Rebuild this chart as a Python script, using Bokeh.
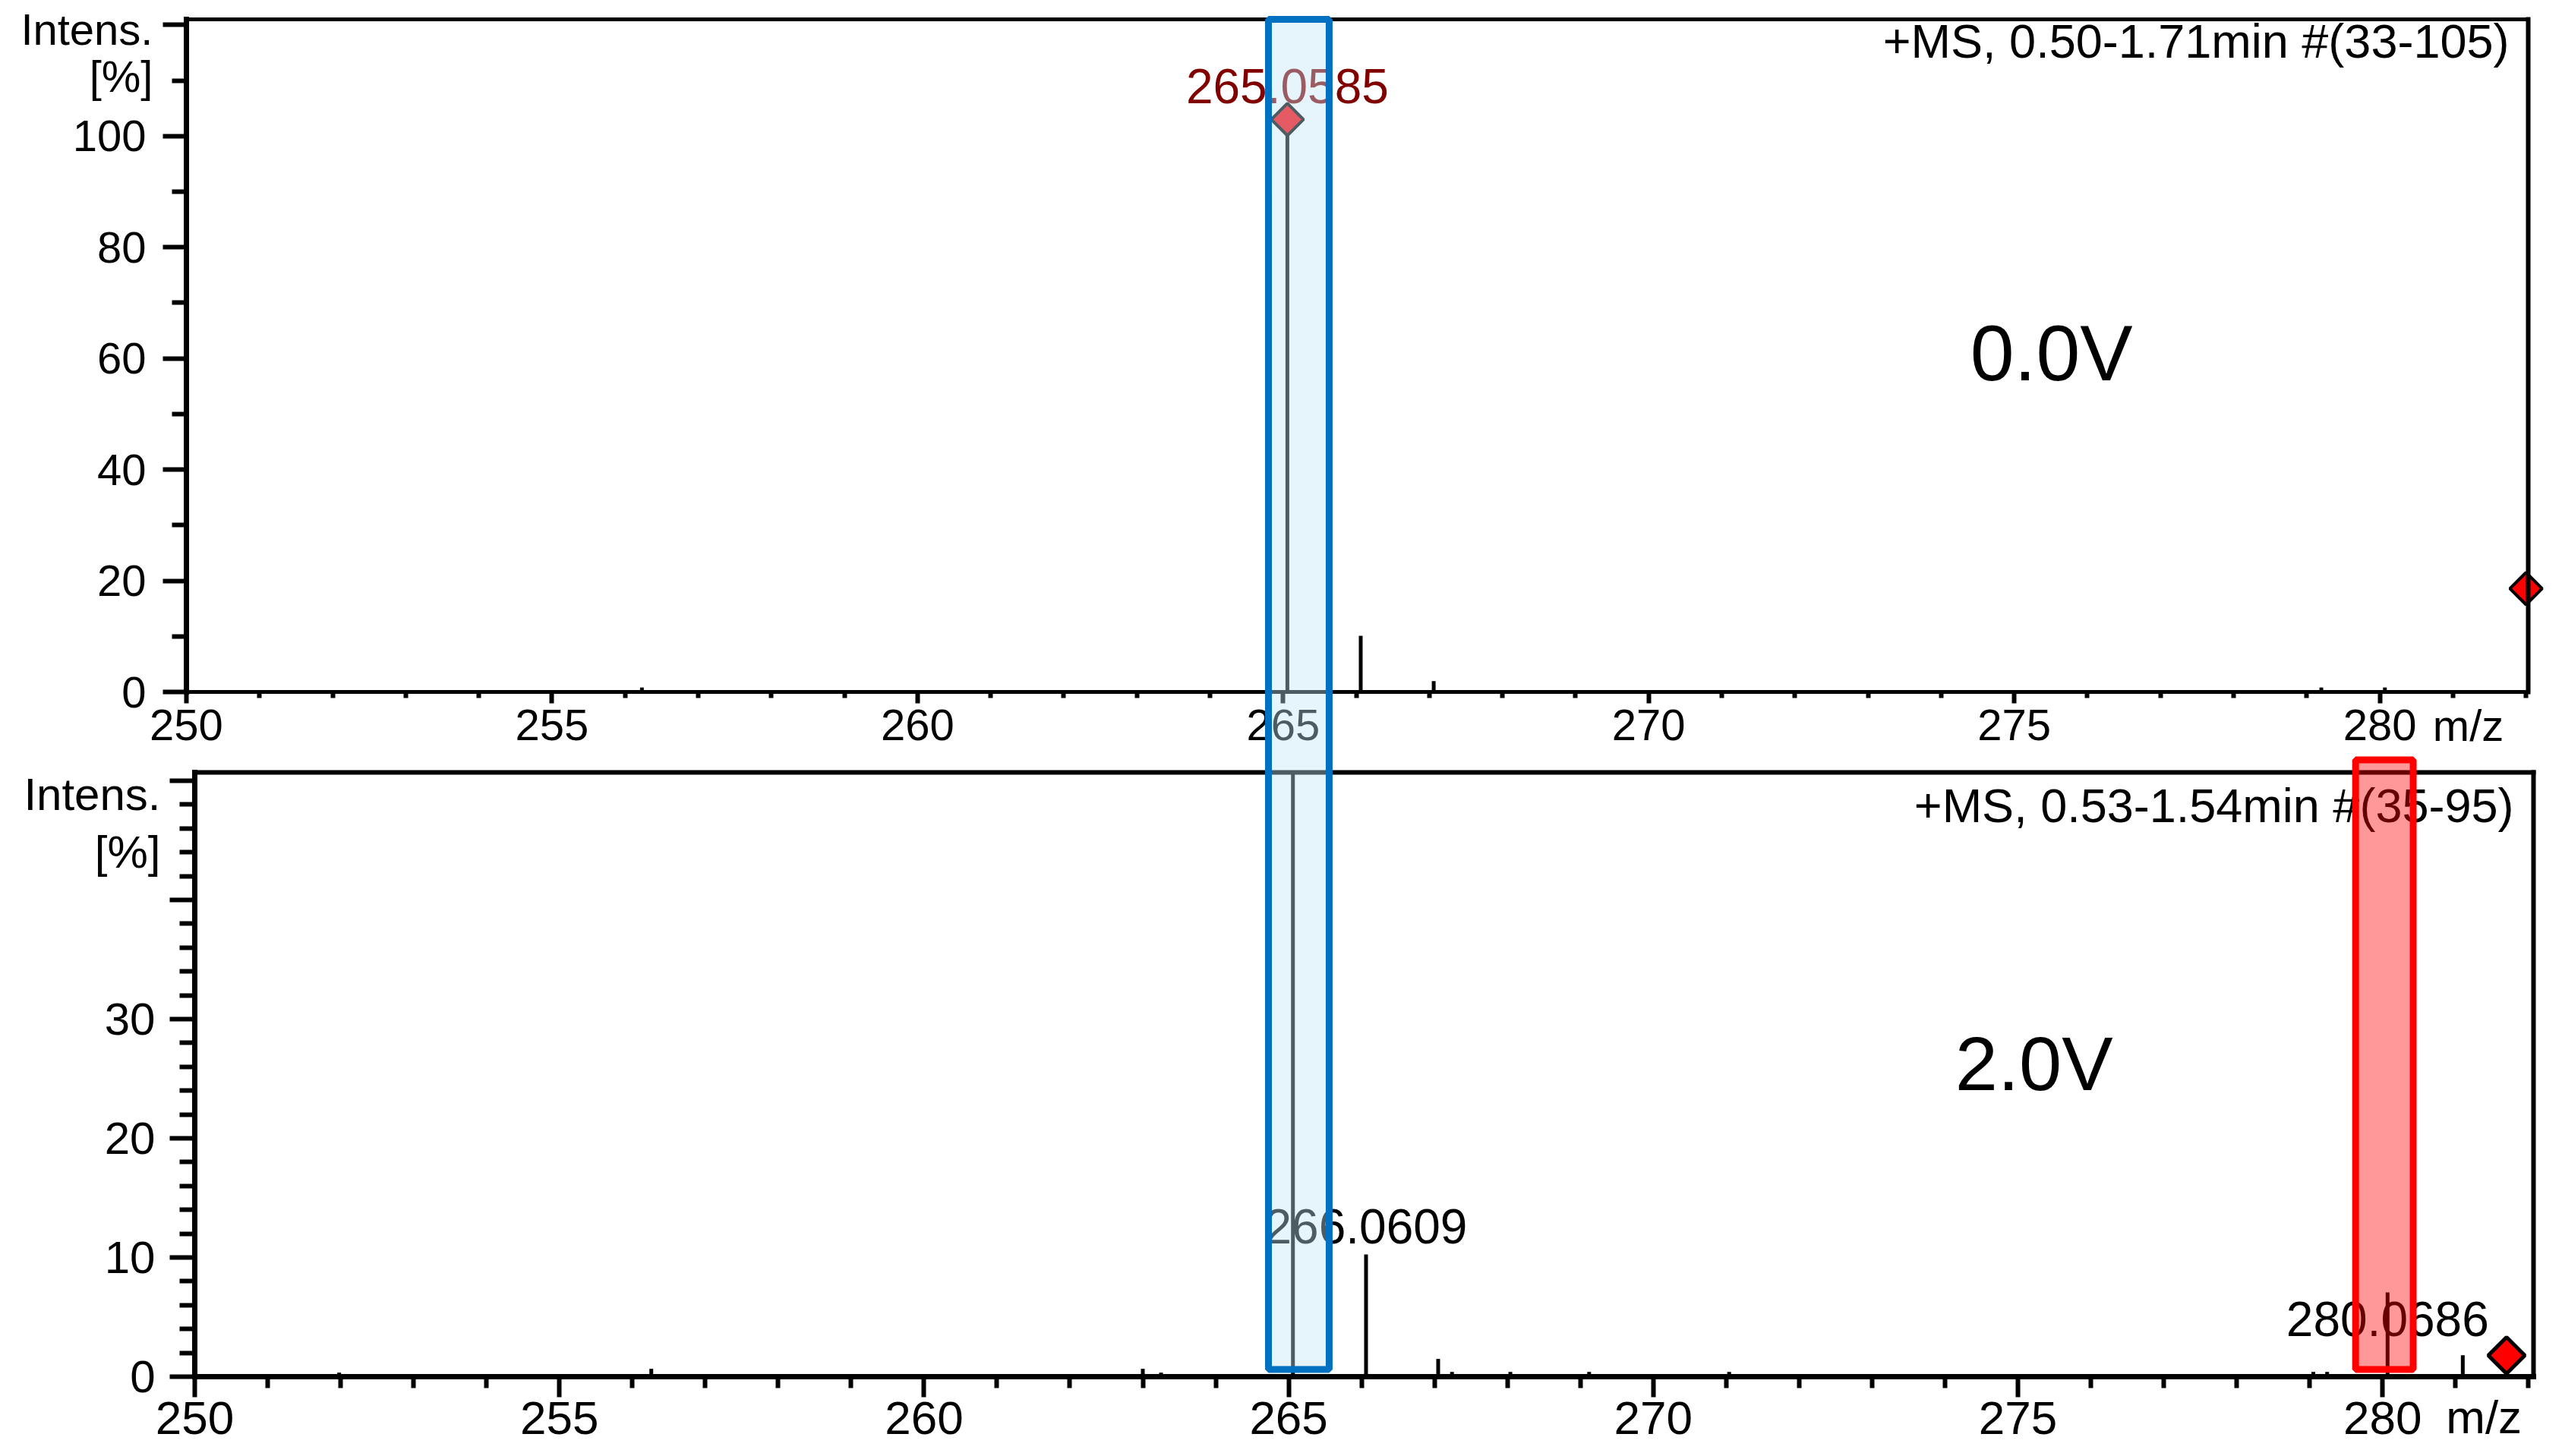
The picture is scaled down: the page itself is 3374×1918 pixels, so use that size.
import math
from bokeh.plotting import figure
from bokeh.models import FixedTicker, BoxAnnotation, Label, Range1d, LinearAxis
from bokeh.embed import file_html
from bokeh.resources import INLINE

FONT = "Liberation Sans"

# ---------------- data ----------------
top_title = "+MS, 0.50-1.71min #(33-105)"
top_voltage = "0.0V"
top_mz = [256.23, 265.0585, 266.0617, 267.06, 279.20, 280.07]
top_int = [0.8, 103.0, 10.1, 1.95, 0.8, 0.8]
top_label_mz = [265.0585]
top_label_int = [103.0]
top_label_text = ["265.0585"]
top_marker_mz = [265.0585, 282.0]
top_marker_int = [103.0, 18.6]

bot_title = "+MS, 0.53-1.54min #(35-95)"
bot_voltage = "2.0V"
bot_mz = [251.98, 256.26, 263.00, 263.25, 265.0585, 266.0609, 267.05, 267.24,
          268.04, 269.12, 271.04, 279.05, 279.24, 280.0686, 281.10]
bot_int = [0.34, 0.66, 0.66, 0.34, 100.0, 10.25, 1.49, 0.4,
           0.4, 0.4, 0.4, 0.4, 0.4, 7.07, 1.8]
bot_label_mz = [266.0609, 280.0686]
bot_label_int = [10.25, 7.07]
bot_label_text = ["266.0609", "280.0686"]
bot_marker_mz = [281.70]
bot_marker_int = [1.78]

x_major = [250, 255, 260, 265, 270, 275, 280]
x_minor = [v for v in range(250, 283) if v % 5 != 0]
top_y_major = [0, 20, 40, 60, 80, 100, 120]
top_y_minor = [10, 30, 50, 70, 90, 110]
bot_y_major = [0, 10, 20, 30, 40, 50]
bot_y_minor = [v for v in range(2, 50, 2) if v % 10 != 0]

top_x_span = (250, 282.03)
top_y_span = (0, 121)
bot_x_span = (250, 282.07)
bot_y_span = (0, 50.7)

# highlighted windows (m/z from, m/z to)
blue_window = (264.80, 265.63)      # in top-panel m/z
red_window = (279.63, 280.42)       # in bottom-panel m/z
red_window_top = 51.75
window_floor = 0.6                  # windows end just above the bottom baseline

# ---------------- layout geometry (pixels inside the figure) ----------------
W, H = 3372, 1916
FR_L, FR_R, FR_T, FR_B = 0, W, 0, H                    # drawing frame = whole canvas
TP_L, TP_R, TP_T, TP_B = 245, 3329, 25, 911            # top panel box
BP_L, BP_R, BP_T, BP_B = 256, 3336, 1017, 1813         # bottom panel box


def span_to_range(span, p0, p1, f0, f1, flip=False):
    a, b = span
    s = (p1 - p0) / (b - a)
    if not flip:
        return (a - (p0 - f0) / s, b + (f1 - p1) / s)
    return (a - (f1 - p1) / s, b + (p0 - f0) / s)


tx_r = span_to_range(top_x_span, TP_L, TP_R, FR_L, FR_R)
ty_r = span_to_range(top_y_span, TP_T, TP_B, FR_T, FR_B, flip=True)
bx_r = span_to_range(bot_x_span, BP_L, BP_R, FR_L, FR_R)
by_r = span_to_range(bot_y_span, BP_T, BP_B, FR_T, FR_B, flip=True)


def bot_y_in_top_units(v):
    """express a bottom-panel intensity in the top panel's y units"""
    pix = BP_B - (v - bot_y_span[0]) * (BP_B - BP_T) / (bot_y_span[1] - bot_y_span[0])
    return ty_r[1] - (pix - FR_T) * (ty_r[1] - ty_r[0]) / (FR_B - FR_T)


p = figure(width=W, height=H, x_range=Range1d(*tx_r), y_range=Range1d(*ty_r),
           x_axis_type=None, y_axis_type=None,
           output_backend="svg", toolbar_location=None,
           min_border_left=0, min_border_right=0, min_border_top=0, min_border_bottom=0)
p.extra_x_ranges = {"bx": Range1d(*bx_r)}
p.extra_y_ranges = {"by": Range1d(*by_r)}
p.xgrid.visible = False
p.ygrid.visible = False
p.outline_line_color = None
p.background_fill_color = "white"
p.border_fill_color = "white"


def add_axis(side, loc, bounds, xr="default", yr="default", ticks=(), minor=(),
             lw=6, tout=0, mout=0, stand=0, fs="58px", overrides=None, line=True):
    ax = LinearAxis(fixed_location=loc, bounds=bounds, x_range_name=xr, y_range_name=yr,
                    ticker=FixedTicker(ticks=list(ticks), minor_ticks=list(minor)))
    ax.axis_line_width = lw
    ax.axis_line_color = "black" if line else None
    ax.axis_line_cap = "square"
    ax.major_tick_line_width = 6
    ax.minor_tick_line_width = 6
    ax.major_tick_line_color = "black" if tout else None
    ax.minor_tick_line_color = "black" if mout else None
    ax.major_tick_in = 0
    ax.minor_tick_in = 0
    ax.major_tick_out = tout
    ax.minor_tick_out = mout
    ax.major_label_standoff = stand
    ax.major_label_text_font = FONT
    ax.major_label_text_font_size = fs
    ax.major_label_text_color = "black"
    if overrides:
        ax.major_label_overrides = overrides
    p.add_layout(ax, side)
    return ax


# ---- top panel axes & borders ----
add_axis("below", 0, top_x_span, ticks=x_major, minor=x_minor, lw=5,
         tout=15, mout=8, stand=8, fs="58px")
add_axis("left", 250, top_y_span, ticks=top_y_major, minor=top_y_minor, lw=7,
         tout=31, mout=19, stand=22, fs="58px", overrides={120: ""})
add_axis("above", top_y_span[1], top_x_span, lw=5)
add_axis("right", top_x_span[1], top_y_span, lw=6)
add_axis("left", 250, top_y_span, ticks=[119.2, 110.8], stand=44, fs="58px",
         overrides={119.2: "Intens.", 110.8: "[%]"}, line=False)
add_axis("below", 0, top_x_span, ticks=[281.21], stand=11, fs="58px",
         overrides={281.21: "m/z"}, line=False)

# ---- bottom panel axes & borders ----
add_axis("below", 0, bot_x_span, xr="bx", yr="by", ticks=x_major, minor=x_minor, lw=7,
         tout=27, mout=15, stand=6, fs="62px")
add_axis("left", 250, bot_y_span, xr="bx", yr="by", ticks=bot_y_major, minor=bot_y_minor,
         lw=7, tout=33, mout=20, stand=19, fs="60px", overrides={40: "", 50: ""})
add_axis("above", bot_y_span[1], bot_x_span, xr="bx", yr="by", lw=6)
add_axis("right", bot_x_span[1], bot_y_span, xr="bx", yr="by", lw=6)
add_axis("left", 250, bot_y_span, xr="bx", yr="by", ticks=[48.85, 44.0], stand=45,
         fs="60px", overrides={48.85: "Intens.", 44.0: "[%]"}, line=False)
add_axis("below", 0, bot_x_span, xr="bx", yr="by", ticks=[281.39], stand=18, fs="62px",
         overrides={281.39: "m/z"}, line=False)

# ---- top panel marks ----
p.segment(x0=top_mz, y0=[0] * len(top_mz), x1=top_mz, y1=top_int,
          line_color="black", line_width=5)
p.scatter(x=top_marker_mz, y=top_marker_int, marker="square", angle=math.pi / 4,
          size=30, fill_color="#ff0000", line_color="black", line_width=4)


def txt(**kw):
    base = dict(text_font=FONT, text_color="black")
    base.update(kw)
    return Label(**base)


for mz, it, tx in zip(top_label_mz, top_label_int, top_label_text):
    p.add_layout(txt(x=mz, y=it, text=tx, y_offset=44, text_align="center",
                     text_baseline="alphabetic", text_font_size="64px",
                     text_color="#800000"))
p.add_layout(txt(x=top_x_span[1], y=top_y_span[1], text=top_title, x_offset=-25,
                 y_offset=-28, text_align="right", text_baseline="alphabetic",
                 text_font_size="63px"))
p.add_layout(txt(x=275.51, y=55.3, text=top_voltage, y_offset=42, text_align="center",
                 text_baseline="alphabetic", text_font_size="104px"))

# ---- bottom panel marks (bottom panel clips at its own top) ----
bot_int_shown = [min(v, bot_y_span[1]) for v in bot_int]
p.segment(x0=bot_mz, y0=[0] * len(bot_mz), x1=bot_mz, y1=bot_int_shown,
          line_color="black", line_width=5, x_range_name="bx", y_range_name="by")
p.scatter(x=bot_marker_mz, y=bot_marker_int, marker="square", angle=math.pi / 4,
          size=34, fill_color="#ff0000", line_color="black", line_width=5,
          x_range_name="bx", y_range_name="by")

label_offsets = [37, -35]
for mz, it, tx, off in zip(bot_label_mz, bot_label_int, bot_label_text, label_offsets):
    p.add_layout(txt(x=mz, y=it, text=tx, y_offset=off, text_align="center",
                     text_baseline="alphabetic", text_font_size="64px",
                     x_range_name="bx", y_range_name="by"))
p.add_layout(txt(x=bot_x_span[1], y=bot_y_span[1], text=bot_title, x_offset=-26,
                 y_offset=-43, text_align="right", text_baseline="alphabetic",
                 text_font_size="63px", x_range_name="bx", y_range_name="by"))
p.add_layout(txt(x=275.22, y=23.6, text=bot_voltage, y_offset=42, text_align="center",
                 text_baseline="alphabetic", text_font_size="101px",
                 x_range_name="bx", y_range_name="by"))

# ---- highlight windows ----
p.add_layout(BoxAnnotation(left=blue_window[0], right=blue_window[1],
                           top=top_y_span[1], bottom=bot_y_in_top_units(window_floor),
                           fill_color=(192, 228, 248), fill_alpha=0.4,
                           line_color="#0070c0", line_alpha=1.0, line_width=9,
                           level="overlay"))
p.add_layout(BoxAnnotation(left=red_window[0], right=red_window[1],
                           top=red_window_top, bottom=window_floor,
                           x_range_name="bx", y_range_name="by",
                           fill_color="#ff0000", fill_alpha=0.4,
                           line_color="#ff0000", line_alpha=1.0, line_width=9,
                           level="overlay"))

open("out.html", "w").write(file_html(p, INLINE))
